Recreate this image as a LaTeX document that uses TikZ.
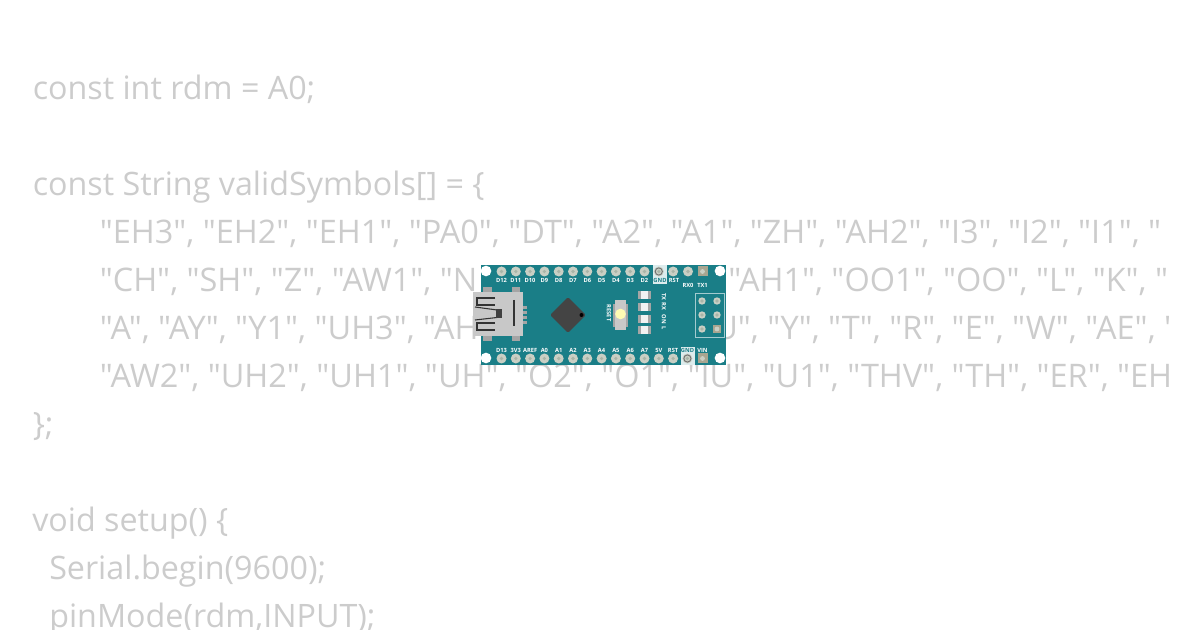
\documentclass[tikz,border=0pt]{standalone}
\usepackage{fontspec}
\newfontfamily\codefont{Open Sans}
\setmainfont{Open Sans}
\usetikzlibrary{shapes.geometric}
\definecolor{codegray}{HTML}{CCCCCC}
\definecolor{boardteal}{HTML}{1A7E87}
\definecolor{pinring}{HTML}{C9CFC4}
\definecolor{pinhole}{HTML}{A9B5A8}
\definecolor{pinsq}{HTML}{A8A590}
\definecolor{usbgray}{HTML}{C8C8C8}
\definecolor{usbtab}{HTML}{A5A5A5}
\definecolor{chipgray}{HTML}{444444}
\tikzset{
  codeline/.style={anchor=base west,inner sep=0pt,text=codegray,font=\codefont\fontsize{24.2}{24}\selectfont},
  quoteline/.style={codeline,font=\codefont\fontsize{24.35}{24}\selectfont},
  pinlabel/.style={inner sep=0pt,text=white,font=\fontsize{4.3}{4}\selectfont\bfseries},
  pinround/.style={circle,fill=pinring,minimum size=7.5pt,inner sep=0pt},
  pinsquare/.style={rectangle,fill=pinsq,minimum size=7.5pt,inner sep=0pt},
  boardhole/.style={circle,fill=white,minimum size=8pt,inner sep=0pt},
  usbline/.style={black!80,line width=0.8pt},
}
\begin{document}
\begin{tikzpicture}[x=0.75pt,y=-0.75pt]
                    \useasboundingbox (0,0) rectangle (1200,630);
                    \begin{scope}
                    \clip (0,0) rectangle (1168,630);
                    \node[codeline] (l1) at (32.5,100) {const int rdm = A0;};
                    \node[codeline] (l3) at (32.5,196) {const String validSymbols[] = \{};
                    \node[quoteline] (l4) at (99.5,244) {"EH3", "EH2", "EH1", "PA0", "DT", "A2", "A1", "ZH", "AH2", "I3", "I2", "I1", "};
                    \node[quoteline] (l5a) at (99.5,292) {"CH", "SH", "Z", "AW1", "N};
                    \node[quoteline] (l5b) at (728,292) {"AH1", "OO1", "OO", "L", "K", "};
                    \node[quoteline] (l6a) at (99.5,340) {"A", "AY", "Y1", "UH3", "AH};
                    \node[quoteline] (l6b) at (714,340) {U", "Y", "T", "R", "E", "W", "AE", "};
                    \node[quoteline] (l7) at (99.5,388) {"AW2", "UH2", "UH1", "UH", "O2", "O1", "IU", "U1", "THV", "TH", "ER", "EH};
                    \node[codeline] (l8) at (32.5,436) {\};};
                    \node[codeline] (l10) at (32,532) {void setup() \{};
                    \node[codeline] (l11) at (49,580) {Serial.begin(9600);};
                    \node[codeline] (l12) at (49,628) {pinMode(rdm,INPUT);};
                    \end{scope}

                    % board
                    \fill[boardteal] (481,265) rectangle (726,365);
                    \fill[white!85!boardteal] (653,265) rectangle (667,284);
                    \fill[white!85!boardteal] (681,347) rectangle (695,365);
                    \foreach \corner/\cx/\cy in {ca/486/271,cb/486/358,cc/720/271,cd/720/358}
                        \node[boardhole] (\corner) at (\cx,\cy) {};

                    % header pins
                    \foreach \i in {0,...,12}
                        \node[pinround] (top\i) at (501.5+14.3*\i,271.5) {};
                    \foreach \pinname [count=\i from 0] in {D12,D11,D10,D9,D8,D7,D6,D5,D4,D3,D2}
                        \node[pinlabel] (toplab\i) at (501.5+14.3*\i,280) {\pinname};
                    \node[pinlabel,text=boardteal] (topgnd) at (660,280) {GND};
                    \node[pinlabel] (toprst) at (674,280) {RST};
                    \node[pinround] (rx0) at (688,271.5) {};
                    \node[pinsquare] (tx1) at (702.5,271.5) {};
                    \node[pinlabel] (rxlab) at (688,285) {RX0};
                    \node[pinlabel] (txlab) at (702.5,285) {TX1};
                    \foreach \i in {0,...,13}
                        \node[pinround] (bot\i) at (501.5+14.3*\i,358.5) {};
                    \foreach \pinname [count=\i from 0] in {D13,3V3,AREF,A0,A1,A2,A3,A4,A5,A6,A7,5V,RST}
                        \node[pinlabel] (botlab\i) at (501.5+14.3*\i,350) {\pinname};
                    \node[pinlabel,text=boardteal] (botgnd) at (687.5,350) {GND};
                    \node[pinsquare] (vin) at (702.5,358.5) {};
                    \node[pinlabel] (vinlab) at (702.5,350) {VIN};
                    \foreach \i in {0,...,12}
                        \fill[pinhole] (top\i) circle (1.8);
                    \foreach \i in {0,...,13}
                        \fill[pinhole] (bot\i) circle (1.8);
                    \fill[pinring] (tx1) circle (2.4);
                    \fill[pinring] (vin) circle (2.4);
                    \fill[pinhole] (rx0) circle (1.8);
                    \draw[black!55,line width=0.7pt] (top11) circle (3.6);
                    \draw[black!55,line width=0.7pt] (bot13) circle (3.6);

                    % usb
                    \fill[usbtab] (483,287) rectangle (492,341);
                    \fill[usbtab] (512,287) rectangle (520,341);
                    \foreach \by in {306,311,316,321}
                        \fill[usbtab] (522,\by) rectangle (527,\by+3);
                    \fill[usbgray] (473,292) rectangle (522.5,336);
                    \draw[usbline] (495,298) -- (477,298) -- (477,305) -- (495,305);
                    \draw[usbline] (495,323) -- (477,323) -- (477,330) -- (495,330);
                    \draw[usbline] (475,307) -- (497,310);
                    \draw[usbline] (475,320) -- (497,317.5);
                    \fill[black!75] (496,309) rectangle (502,318);
                    \draw[usbline] (514,300) -- (514,326);

                    % chip
                    \node[diamond,fill=chipgray,rounded corners=1pt,minimum size=27pt,inner sep=0pt] (chip) at (568,315) {};
                    \fill[black] (581.5,315) circle (2);

                    % reset button
                    \fill[usbtab] (613,304) rectangle (628,327);
                    \fill[usbgray] (615,300) rectangle (626,330);
                    \node[circle,fill=white!70!yellow,minimum size=8pt,inner sep=0pt] (resetbtn) at (620.5,314) {};
                    \node[pinlabel,rotate=-90] (resetlab) at (609,313) {RESET};

                    % leds
                    \foreach \ledy [count=\i] in {295,307,319,330}{
                        \fill[usbtab] (638,\ledy-4) rectangle (651,\ledy+4);
                        \fill[white!95!black] (641,\ledy-4) rectangle (648,\ledy+4);
                    }
                    \node[pinlabel,rotate=-90] (txrx) at (664,302) {TX\ \,RX};
                    \node[pinlabel,rotate=-90] (onl) at (664,322) {ON\ \,L};

                    % icsp
                    \draw[white!60!boardteal,line width=0.6pt] (695,293) rectangle (724,337);
                    \foreach \ix/\iy in {702/301,717/301,702/315,717/315,702/329}
                        \fill[pinring] (\ix,\iy) circle (3.7);
                    \fill[pinsq] (713.2,325.2) rectangle (720.8,332.8);
                    \fill[pinring] (717,329) circle (2.4);
                    \foreach \ix/\iy in {702/301,717/301,702/315,717/315,702/329}
                        \fill[pinhole] (\ix,\iy) circle (1.8);
                \end{tikzpicture}
\end{document}
